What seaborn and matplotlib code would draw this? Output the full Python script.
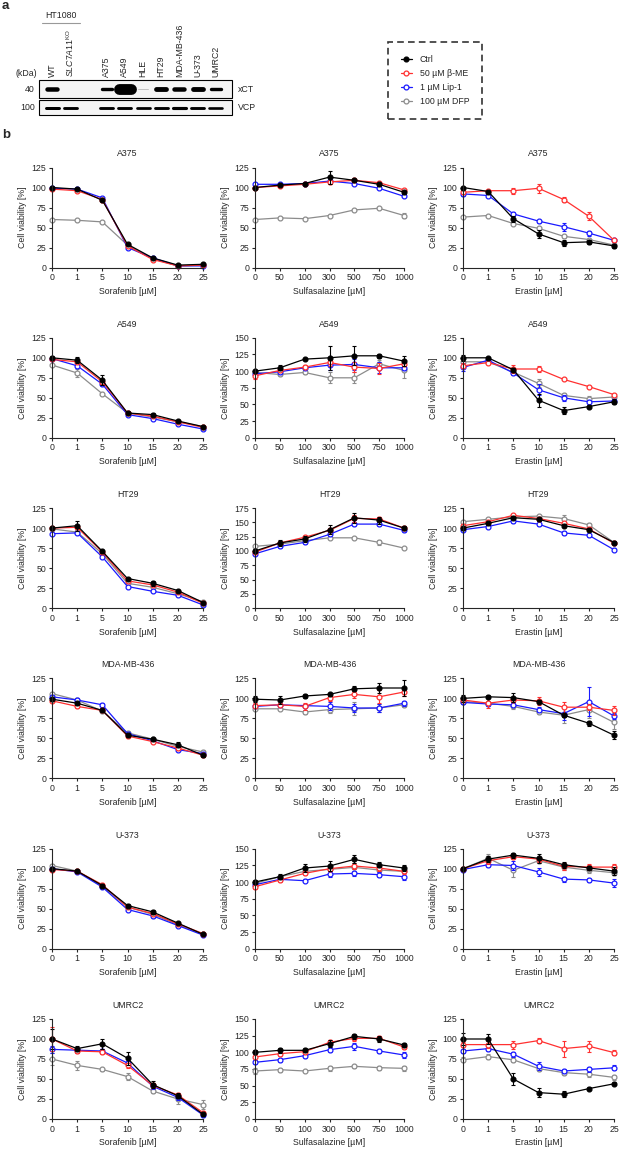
import numpy as np
import pandas as pd
import matplotlib
matplotlib.use("Agg")
import matplotlib.pyplot as plt
import seaborn as sns
from matplotlib.lines import Line2D
from matplotlib.patches import Rectangle

sns.set_style("ticks")
plt.rcParams['font.family'] = ['Liberation Sans', 'DejaVu Sans']
plt.rcParams['font.size'] = 6.3
plt.rcParams['axes.linewidth'] = 0.8
plt.rcParams['mathtext.fontset'] = 'custom'
plt.rcParams['mathtext.rm'] = 'Liberation Sans'
plt.rcParams['mathtext.it'] = 'Liberation Sans:italic'

# ---------------- data ----------------
TREATMENTS = ['Ctrl', '50 µM β-ME', '1 µM Lip-1', '100 µM DFP']
COLORS = ['black', '#ff3030', '#1a1aff', '#8c8c8c']
FACES = ['black', 'white', 'white', 'white']

CELL_LINES = ['A375', 'A549', 'HT29', 'MDA-MB-436', 'U-373', 'UMRC2']
DRUGS = ['Sorafenib [µM]', 'Sulfasalazine [µM]', 'Erastin [µM]']
DOSES_SORA = ['0', '1', '5', '10', '15', '20', '25']
DOSES_SSZ = ['0', '50', '100', '300', '500', '750', '1000']
DOSES_ERA = ['0', '1', '5', '10', '15', '20', '25']

# rows: Ctrl, β-ME, Lip-1, DFP
A375_SORA = [[100, 98, 84, 29, 12, 3, 4], [98, 96, 85, 27, 10, 2, 3],
             [99, 98, 87, 25, 12, 2, 2], [60, 59, 57, 28, 11, 2, 3]]
A375_SORA_ERR = [[1, 1, 1, 1, 1, 0.5, 0.5], [1, 1, 1, 1, 1, 0.5, 0.5],
                 [1, 1, 1, 1, 1, 0.5, 0.5], [1, 1, 1, 1, 1, 0.5, 0.5]]
A375_SSZ = [[100, 103, 105, 113, 109, 104, 94], [100, 102, 104, 107, 109, 106, 97],
            [104, 104, 105, 108, 105, 99, 89], [60, 62, 61, 65, 72, 74, 65]]
A375_SSZ_ERR = [[1, 1, 1, 8, 2, 2, 2], [1, 1, 1, 3, 2, 1, 1],
                [1, 1, 1, 1, 1, 1, 1], [1, 1, 1, 1, 1, 1, 3]]
A375_ERA = [[100, 95, 61, 42, 31, 32, 27], [94, 96, 96, 99, 85, 64, 34],
            [92, 90, 67, 58, 51, 43, 34], [63, 65, 55, 49, 39, 35, 28]]
A375_ERA_ERR = [[1, 1, 4, 5, 4, 3, 2], [2, 1, 4, 6, 3, 5, 2],
                [2, 2, 3, 2, 5, 3, 1], [1, 1, 1, 2, 2, 1, 1]]

A549_SORA = [[100, 97, 72, 31, 29, 21, 14], [98, 95, 70, 31, 27, 20, 13],
             [99, 90, 67, 29, 24, 17, 11], [91, 81, 55, 31, 26, 20, 14]]
A549_SORA_ERR = [[2, 4, 6, 1, 2, 1, 1], [1, 2, 3, 1, 1, 1, 1],
                 [1, 3, 2, 1, 1, 1, 1], [1, 5, 1, 1, 1, 1, 1]]
A549_SSZ = [[100, 105, 118, 120, 123, 123, 115], [93, 101, 106, 113, 106, 104, 111],
            [96, 99, 105, 109, 110, 105, 105], [98, 95, 98, 90, 90, 111, 101]]
A549_SSZ_ERR = [[2, 4, 2, 18, 14, 3, 8], [5, 2, 3, 6, 8, 8, 3],
                [2, 4, 2, 8, 8, 8, 3], [2, 3, 2, 8, 8, 6, 12]]
A549_ERA = [[100, 100, 85, 47, 34, 39, 45], [90, 94, 86, 86, 73, 64, 54],
            [88, 97, 81, 60, 50, 45, 46], [95, 95, 82, 68, 53, 49, 51]]
A549_ERA_ERR = [[4, 1, 2, 8, 4, 2, 3], [3, 1, 5, 4, 1, 1, 1],
                [5, 2, 2, 7, 4, 2, 2], [2, 1, 1, 5, 3, 3, 2]]

HT29_SORA = [[100, 103, 71, 37, 31, 22, 7], [100, 101, 70, 34, 29, 20, 6],
             [93, 94, 64, 27, 21, 16, 4], [99, 95, 68, 31, 26, 18, 8]]
HT29_SORA_ERR = [[1, 6, 2, 1, 3, 1, 1], [1, 2, 2, 1, 1, 1, 1],
                 [1, 1, 1, 1, 1, 1, 1], [1, 1, 1, 1, 1, 1, 1]]
HT29_SSZ = [[100, 114, 121, 137, 158, 154, 140], [98, 114, 124, 136, 157, 156, 140],
            [95, 108, 115, 129, 147, 147, 136], [108, 112, 118, 123, 123, 115, 105]]
HT29_SSZ_ERR = [[3, 5, 6, 8, 9, 6, 4], [2, 3, 3, 3, 6, 4, 3],
                [2, 2, 2, 3, 3, 3, 2], [2, 2, 2, 2, 2, 4, 1]]
HT29_ERA = [[100, 106, 113, 111, 103, 98, 82], [103, 108, 116, 112, 106, 99, 81],
            [98, 102, 109, 105, 94, 91, 73], [108, 111, 114, 115, 112, 104, 82]]
HT29_ERA_ERR = [[2, 2, 2, 2, 2, 2, 2], [2, 2, 2, 2, 2, 2, 2],
                [2, 2, 2, 2, 2, 2, 2], [2, 2, 2, 2, 4, 2, 2]]

MDA_SORA = [[99, 94, 85, 54, 49, 42, 29], [97, 90, 85, 53, 46, 38, 29],
            [102, 98, 92, 56, 47, 36, 31], [106, 98, 84, 57, 49, 40, 33]]
MDA_SORA_ERR = [[2, 2, 2, 2, 2, 3, 2], [2, 2, 2, 2, 2, 2, 2],
                [2, 2, 2, 2, 2, 2, 2], [2, 2, 2, 2, 2, 2, 2]]
MDA_SSZ = [[99, 98, 103, 105, 112, 113, 113], [91, 92, 90, 101, 105, 102, 108],
           [90, 92, 91, 90, 88, 88, 94], [87, 87, 83, 86, 87, 88, 92]]
MDA_SSZ_ERR = [[4, 5, 2, 2, 3, 6, 10], [3, 2, 4, 4, 5, 8, 5],
               [2, 2, 2, 5, 5, 5, 3], [2, 2, 2, 4, 8, 5, 3]]
MDA_ERA = [[100, 102, 101, 96, 79, 69, 54], [98, 94, 98, 97, 89, 89, 85],
           [95, 93, 92, 86, 81, 96, 78], [96, 94, 90, 83, 79, 86, 70]]
MDA_ERA_ERR = [[4, 2, 6, 2, 2, 3, 5], [3, 6, 2, 5, 7, 4, 6],
               [2, 2, 2, 3, 8, 18, 4], [2, 2, 3, 2, 10, 10, 8]]

U373_SORA = [[100, 97, 79, 54, 46, 32, 18], [99, 97, 80, 52, 44, 31, 19],
             [100, 96, 77, 49, 41, 29, 17], [104, 97, 78, 52, 43, 30, 18]]
U373_SORA_ERR = [[1, 2, 2, 2, 3, 1, 1], [1, 1, 2, 1, 2, 1, 1],
                 [1, 1, 1, 1, 2, 1, 1], [2, 1, 1, 1, 2, 1, 1]]
U373_SSZ = [[100, 108, 121, 124, 134, 126, 121], [93, 103, 113, 120, 124, 121, 116],
            [96, 104, 102, 112, 113, 111, 108], [98, 108, 116, 119, 122, 118, 116]]
U373_SSZ_ERR = [[3, 4, 6, 7, 6, 4, 5], [3, 3, 3, 4, 4, 4, 4],
                [2, 2, 2, 4, 4, 4, 5], [2, 2, 2, 3, 3, 3, 3]]
U373_ERA = [[100, 112, 117, 113, 105, 101, 97], [100, 110, 115, 112, 103, 102, 102],
            [99, 105, 104, 96, 87, 86, 82], [100, 113, 98, 110, 102, 98, 95]]
U373_ERA_ERR = [[2, 4, 3, 6, 4, 3, 5], [2, 4, 3, 3, 4, 4, 4],
                [2, 3, 6, 5, 3, 3, 5], [2, 5, 8, 3, 3, 3, 3]]

UMRC2_SORA = [[100, 88, 94, 76, 43, 29, 6], [100, 85, 84, 67, 42, 30, 8],
              [87, 86, 85, 70, 41, 27, 5], [75, 67, 62, 53, 35, 25, 18]]
UMRC2_SORA_ERR = [[12, 3, 6, 8, 4, 3, 2], [15, 3, 3, 3, 3, 3, 2],
                  [4, 3, 3, 3, 3, 3, 2], [8, 6, 2, 4, 3, 6, 6]]
UMRC2_SSZ = [[100, 103, 103, 113, 124, 120, 111], [93, 98, 101, 115, 121, 121, 108],
             [85, 89, 95, 104, 109, 102, 96], [72, 74, 72, 76, 79, 77, 76]]
UMRC2_SSZ_ERR = [[3, 4, 3, 5, 4, 5, 3], [2, 3, 3, 3, 4, 3, 3],
                 [3, 3, 3, 4, 5, 3, 5], [4, 3, 2, 4, 2, 3, 4]]
UMRC2_ERA = [[100, 100, 50, 33, 31, 38, 44], [93, 93, 93, 98, 88, 91, 83],
             [85, 88, 81, 66, 60, 62, 64], [74, 78, 74, 63, 58, 56, 52]]
UMRC2_ERA_ERR = [[8, 6, 8, 6, 4, 2, 2], [3, 4, 5, 3, 10, 7, 3],
                 [3, 3, 3, 5, 3, 3, 3], [3, 3, 3, 3, 3, 3, 3]]

Y_TOP = [[125, 125, 125], [125, 150, 125], [125, 175, 125],
         [125, 125, 125], [125, 150, 125], [125, 150, 125]]

# western blot (relative band intensity per lane, lane 3 empty)
LANES = ['WT', r'$\mathit{SLC7A11}^{\mathrm{KO}}$', '', 'A375', 'A549', 'HLE',
         'HT29', 'MDA-MB-436', 'U-373', 'UMRC2']
XCT_LEVEL = [1.0, 0.0, 0.0, 0.7, 3.0, 0.15, 1.1, 1.0, 1.1, 0.7]
VCP_LEVEL = [1.0, 0.95, 0.0, 0.95, 0.95, 0.9, 0.95, 1.05, 0.95, 0.85]

PANELS = [
    [(A375_SORA, A375_SORA_ERR), (A375_SSZ, A375_SSZ_ERR), (A375_ERA, A375_ERA_ERR)],
    [(A549_SORA, A549_SORA_ERR), (A549_SSZ, A549_SSZ_ERR), (A549_ERA, A549_ERA_ERR)],
    [(HT29_SORA, HT29_SORA_ERR), (HT29_SSZ, HT29_SSZ_ERR), (HT29_ERA, HT29_ERA_ERR)],
    [(MDA_SORA, MDA_SORA_ERR), (MDA_SSZ, MDA_SSZ_ERR), (MDA_ERA, MDA_ERA_ERR)],
    [(U373_SORA, U373_SORA_ERR), (U373_SSZ, U373_SSZ_ERR), (U373_ERA, U373_ERA_ERR)],
    [(UMRC2_SORA, UMRC2_SORA_ERR), (UMRC2_SSZ, UMRC2_SSZ_ERR), (UMRC2_ERA, UMRC2_ERA_ERR)],
]
DOSE_LABELS = [DOSES_SORA, DOSES_SSZ, DOSES_ERA]

# ---------------- figure ----------------
W, H = 619, 1149
fig = plt.figure(figsize=(W / 100, H / 100), dpi=100)

col_px = [(52, 203), (255, 404), (463, 614)]
draw_order = [3, 2, 1, 0]  # grey first, Ctrl on top

for r, cell in enumerate(CELL_LINES):
    top = 167.5 + 170.3 * r
    for c in range(3):
        l, rr = col_px[c]
        ax = fig.add_axes([l / W, 1 - (top + 100) / H, (rr - l) / W, 100 / H])
        means, errs = PANELS[r][c]
        labels = DOSE_LABELS[c]
        rows = []
        for k in range(4):
            for i, lab in enumerate(labels):
                rows.append({'pos': i, 'dose': lab, 'treatment': TREATMENTS[k],
                             'viability': means[k][i], 'err': errs[k][i]})
        df = pd.DataFrame(rows)
        for j, k in enumerate(draw_order):
            sub = df[df.treatment == TREATMENTS[k]]
            z = 2 + j * 0.1
            ax.errorbar(sub.pos, sub.viability, yerr=sub.err, fmt='none',
                        ecolor=COLORS[k], elinewidth=0.8, capsize=1.5,
                        capthick=0.8, zorder=z, clip_on=False)
            sns.lineplot(data=sub, x='pos', y='viability', ax=ax, color=COLORS[k],
                         marker='o', markersize=3.5, markeredgewidth=0.9,
                         markerfacecolor=FACES[k], markeredgecolor=COLORS[k],
                         linewidth=0.9, errorbar=None, clip_on=False, zorder=z + 0.05)
        ax.set_xlim(0, 6)
        ax.set_ylim(0, Y_TOP[r][c])
        ax.set_xticks(range(7))
        ax.set_xticklabels(labels)
        ax.set_yticks(np.arange(0, Y_TOP[r][c] + 1, 25))
        ax.tick_params(length=2.5, width=0.8, pad=1.5, labelsize=6.3)
        ax.set_title(cell, fontsize=6.3, pad=8)
        ax.set_xlabel(DRUGS[c], fontsize=6.3, labelpad=3.5)
        ax.set_ylabel('Cell viability [%]', fontsize=6.3, labelpad=3.2)
        sns.despine(ax=ax)

# ---------------- panel a: blot ----------------
axb = fig.add_axes([0, 1 - 130 / H, 1, 130 / H])
axb.set_xlim(0, W)
axb.set_ylim(130, 0)
axb.axis('off')

axb.add_patch(Rectangle((39, 80), 193, 18, facecolor='#f4f4f4', edgecolor='black', lw=0.8))
axb.add_patch(Rectangle((39, 100), 193, 15, facecolor='#f4f4f4', edgecolor='black', lw=0.8))


def draw_band(x, y, level, scale, base_len):
    if level <= 0:
        return
    thick = scale * level ** 0.8
    length = base_len + max(level - 1, 0)
    shade = str(round(max(0.0, 1 - min(1.0, level * 1.6)), 2))
    axb.plot([x - length / 2, x + length / 2], [y, y], lw=thick * 0.72,
             color=shade, solid_capstyle='round')


for i, lab in enumerate(LANES):
    x = 52 + 18.2 * i
    draw_band(x, 89, XCT_LEVEL[i], 4.5, 10)
    draw_band(x, 107.5, VCP_LEVEL[i], 3.0, 13)
    if lab:
        axb.text(x, 77, lab, rotation=90, ha='center', va='bottom', fontsize=6.3)

axb.text(61, 16, 'HT1080', ha='center', va='center', fontsize=6.3)
axb.plot([42, 80], [23, 23], color='#999999', lw=0.8)
axb.text(37, 73, '(kDa)', ha='right', va='center', fontsize=6.3)
axb.text(35, 89, '40', ha='right', va='center', fontsize=6.3)
axb.text(35, 107.5, '100', ha='right', va='center', fontsize=6.3)
axb.text(238, 89, 'xCT', ha='left', va='center', fontsize=6.3)
axb.text(238, 107.5, 'VCP', ha='left', va='center', fontsize=6.3)

fig.text(2 / W, 1 - 6 / H, 'a', fontsize=9.5, fontweight='bold', va='center')
fig.text(2 / W, 1 - 135 / H, 'b', fontsize=9.5, fontweight='bold', va='center')

# legend
handles = [Line2D([], [], color=COLORS[k], marker='o', markersize=3.5,
                  markerfacecolor=FACES[k], markeredgewidth=0.9, lw=0.9)
           for k in range(4)]
leg = fig.legend(handles, TREATMENTS, loc='upper left',
                 bbox_to_anchor=(388 / W, 1 - 42 / H), frameon=True, fontsize=6.3,
                 borderpad=1.5, handlelength=1.2, handletextpad=0.9,
                 labelspacing=0.55, fancybox=False, edgecolor='black', borderaxespad=0)
leg.get_frame().set_linestyle((0, (4, 2.5)))
leg.get_frame().set_linewidth(1.2)

fig.savefig('out.png', dpi=100)
